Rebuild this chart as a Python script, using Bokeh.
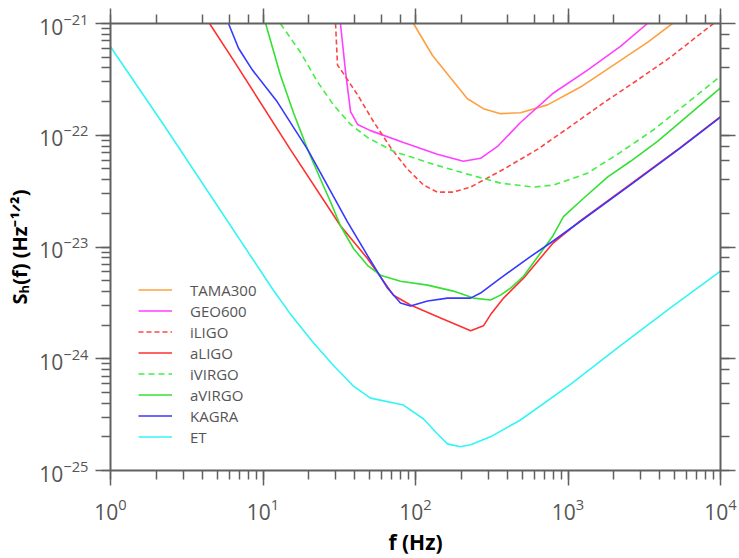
import numpy as np
from bokeh.plotting import figure
from bokeh.models import (Range1d, LogAxis, LogTicker, Legend, LegendItem,
                          CustomJSTickFormatter)
from bokeh.embed import file_html
from bokeh.resources import INLINE

# ---------------- data (frequency in Hz, strain sensitivity in Hz^-1/2) ----------------
tama_f = [97, 129, 170, 219, 279, 361, 488, 734, 1208, 1987, 3320, 4842]
tama_s = [1e-21, 5.2e-22, 3.25e-22, 2.12e-22, 1.73e-22, 1.56e-22, 1.59e-22, 1.87e-22,
          2.70e-22, 4.24e-22, 6.78e-22, 1e-21]

geo_f = [32.2, 34.8, 37.5, 41.7, 50.7, 83.4, 139, 206, 267, 345, 488, 803, 1343, 2208, 3320]
geo_s = [1e-21, 3.67e-22, 1.63e-22, 1.25e-22, 1.10e-22, 8.63e-23, 6.75e-23, 5.85e-23,
         6.22e-23, 7.94e-23, 1.30e-22, 2.39e-22, 3.83e-22, 6.25e-22, 1e-21]

iligo_f = [29.9, 30.8, 33.2, 41.7, 53.1, 68.6, 88.7, 113, 139, 177, 230, 378, 631, 1038,
           1710, 2858, 4697, 8995]
iligo_s = [1e-21, 4.24e-22, 3.67e-22, 2.30e-22, 1.32e-22, 7.78e-23, 4.96e-23, 3.58e-23,
           3.1e-23, 3.1e-23, 3.44e-23, 4.96e-23, 7.48e-23, 1.2e-22, 1.95e-22, 3.12e-22,
           4.99e-22, 1e-21]

aligo_f = [4.46, 6.4, 15.1, 32.2, 48.4, 71.7, 92.7, 146, 230, 279, 310, 378,
           511, 791, 1208, 2570, 5470, 10000]
aligo_s = [1e-21, 4.70e-22, 7.48e-23, 1.55e-23, 7.9e-24, 3.7e-24,
           3.03e-24, 2.32e-24, 1.78e-24, 1.97e-24, 2.47e-24, 3.49e-24, 5.26e-24, 1.07e-23,
           1.72e-23, 3.66e-23, 7.8e-23, 1.47e-22]

ivirgo_f = [13.0, 17.6, 22.8, 29.0, 37.5, 48.4, 71.7, 131, 219, 361, 594, 803, 1343,
            2208, 3640, 6080, 10000]
ivirgo_s = [1e-21, 5.53e-22, 3.0e-22, 1.87e-22, 1.25e-22, 9.55e-23, 7.18e-23, 5.5e-23,
            4.49e-23, 3.73e-23, 3.44e-23, 3.58e-23, 4.58e-23, 7.03e-23, 1.12e-22,
            1.95e-22, 3.39e-22]

avirgo_f = [10.4, 13.0, 15.85, 19.6, 23.8, 27.7, 32.2, 39.2, 48.4, 58.9, 79.7, 120, 177,
            240, 310, 361, 420, 511, 791, 934, 1208, 1815, 2570, 3864, 5470, 10000]
avirgo_s = [1e-21, 3.46e-22, 1.59e-22, 7.48e-23, 4.06e-23, 2.54e-23, 1.55e-23, 9.7e-24,
            6.86e-24, 5.59e-24, 4.94e-24, 4.56e-24, 4.03e-24, 3.49e-24, 3.36e-24, 3.71e-24,
            4.29e-24, 5.47e-24, 1.24e-23, 1.87e-23, 2.58e-23, 4.22e-23, 5.85e-23, 8.8e-23,
            1.32e-22, 2.65e-22]

kagra_f = [5.94, 6.91, 8.53, 12.4, 19.6, 35.8, 48.4, 65.5, 79.7, 92.7, 120, 162, 230, 267,
           361, 567, 791, 1208, 2570, 5470, 10000]
kagra_s = [1e-21, 6.0e-22, 3.83e-22, 1.99e-22, 7.48e-23, 1.68e-23, 8.4e-24, 4.29e-24,
           3.15e-24, 2.97e-24, 3.29e-24, 3.49e-24, 3.49e-24, 3.87e-24, 5.26e-24, 8.2e-24,
           1.12e-23, 1.70e-23, 3.60e-23, 7.7e-23, 1.45e-22]

et_f = [1.0, 2.23, 11.7, 15.1, 21.4, 29, 39.2, 50.7, 83.4, 113, 139, 162, 197, 230, 310,
        488, 1038, 2208, 4697, 10000]
et_s = [6.2e-22, 1.24e-22, 4.1e-24, 2.52e-24, 1.39e-24, 8.7e-25, 5.68e-25, 4.44e-25,
        3.85e-25, 2.89e-25, 2.13e-25, 1.73e-25, 1.63e-25, 1.70e-25, 2.0e-25, 2.83e-25,
        5.9e-25, 1.31e-24, 2.85e-24, 6.07e-24]

names = ["TAMA300", "GEO600", "iLIGO", "aLIGO", "iVIRGO", "aVIRGO", "KAGRA", "ET"]
freqs = [tama_f, geo_f, iligo_f, aligo_f, ivirgo_f, avirgo_f, kagra_f, et_f]
sens = [tama_s, geo_s, iligo_s, aligo_s, ivirgo_s, avirgo_s, kagra_s, et_s]
colors = ["#ffa040", "#ff40ff", "#ff4545", "#ff3030", "#44ee44", "#33e033", "#3838ff", "#33f5f5"]
dashes = ["solid", "solid", "5 3", "solid", "6 4", "solid", "solid", "solid"]

FONT = "Open Sans"
AX_COL = "#606060"
LBL_COL = "#555555"

p = figure(width=739, height=558, x_axis_type="log", y_axis_type="log",
           x_range=Range1d(1, 1e4), y_range=Range1d(1e-25, 1e-21),
           output_backend="svg", toolbar_location=None,
           min_border_left=110, min_border_right=19, min_border_top=23, min_border_bottom=84)
p.grid.visible = False
p.outline_line_color = None
p.background_fill_color = "white"
p.border_fill_color = "white"

def style_axis(ax):
    ax.axis_line_color = AX_COL
    ax.axis_line_width = 2
    ax.major_tick_line_color = AX_COL
    ax.minor_tick_line_color = AX_COL
    ax.major_tick_line_width = 1.5
    ax.minor_tick_line_width = 1.5
    ax.major_tick_in = 0
    ax.major_tick_out = 15
    ax.minor_tick_in = 0
    ax.minor_tick_out = 9
    ax.major_label_text_font = FONT
    ax.major_label_text_color = LBL_COL
    ax.major_label_text_font_size = "21px"

for ax in p.xaxis + p.yaxis:
    style_axis(ax)
p.xaxis.major_label_standoff = 12
p.yaxis.major_label_standoff = 7
for ax in p.xaxis + p.yaxis:
    ax.axis_label_text_font = FONT
    ax.axis_label_text_font_style = "bold"
    ax.axis_label_text_font_size = "20px"
    ax.axis_label_text_color = "black"
p.xaxis.axis_label = "f (Hz)"
p.xaxis.axis_label_text_font_size = "21px"
p.xaxis.axis_label_standoff = 5
p.yaxis.axis_label = "S\u2095(f) (Hz\u207b\u00b9\u141f\u00b2)"
p.yaxis.axis_label_standoff = 3

top = LogAxis(ticker=LogTicker(), formatter=CustomJSTickFormatter(code="return ''"))
right = LogAxis(ticker=LogTicker(), formatter=CustomJSTickFormatter(code="return ''"))
for ax in (top, right):
    style_axis(ax)
    ax.major_label_standoff = 0
    ax.major_label_text_font_size = "1px"
p.add_layout(top, "above")
p.add_layout(right, "right")

items = []
for nm, fx, sy, c, d in zip(names, freqs, sens, colors, dashes):
    r = p.line(fx, sy, line_color=c, line_width=1.6, line_dash=d)
    items.append(LegendItem(label=nm, renderers=[r]))

leg = Legend(items=items, location=(28, 23), border_line_color=None,
             background_fill_alpha=0, padding=0, margin=0, spacing=0,
             glyph_width=34, glyph_height=21, label_height=21, label_standoff=18,
             label_text_font=FONT, label_text_font_size="15px", label_text_color=LBL_COL)
p.add_layout(leg)

open("out.html", "w").write(file_html(p, INLINE))
